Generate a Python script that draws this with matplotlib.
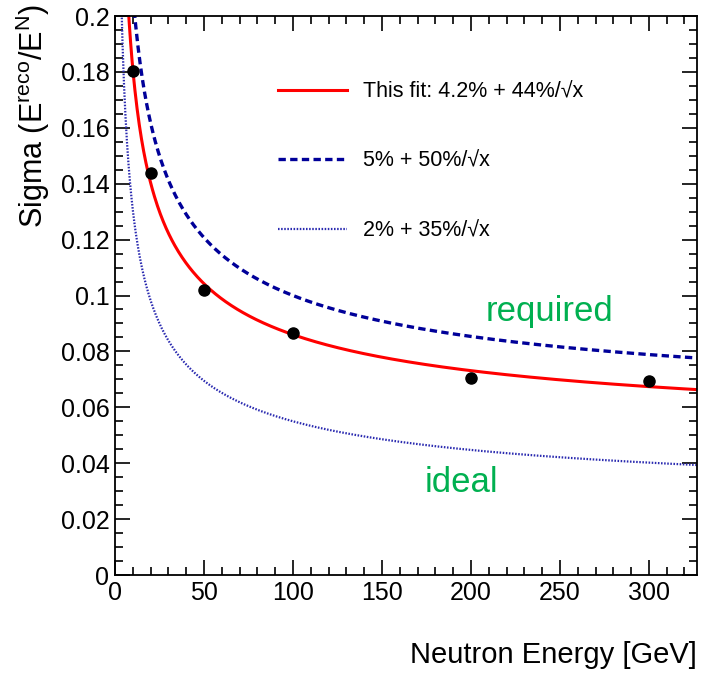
import numpy as np
import matplotlib.pyplot as plt
from matplotlib.ticker import MultipleLocator

plt.rcParams['font.family'] = ['Liberation Sans', 'DejaVu Sans']
plt.rcParams['mathtext.fontset'] = 'custom'
plt.rcParams['mathtext.rm'] = 'Liberation Sans'
plt.rcParams['mathtext.it'] = 'Liberation Sans:italic'

# measured resolution points
energy = [10, 20, 50, 100, 200, 300]
sigma = [0.1805, 0.1440, 0.1021, 0.0866, 0.0705, 0.0694]

# resolution curves: constant term + stochastic term / sqrt(E)
curve_labels = ['This fit: 4.2% + 44%/\u221ax', '5% + 50%/\u221ax', '2% + 35%/\u221ax']
const_terms = [0.042, 0.05, 0.02]
stoch_terms = [0.44, 0.50, 0.35]
curve_colors = ['#ff0000', '#000099', '#2a2ab0']
curve_styles = ['-', (0, (2.2, 1.3)), (0, (0.7, 0.7))]
curve_widths = [2.2, 2.4, 1.6]

x_max = 327


def main():
    W, H = 702, 673
    fig = plt.figure(figsize=(W / 100, H / 100), dpi=100)
    ax = fig.add_axes([0.1638, 0.1456, 0.829, 0.8306])

    xs = np.linspace(1, x_max, 800)
    for c, s, col, ls, lw, lab in zip(const_terms, stoch_terms, curve_colors,
                                      curve_styles, curve_widths, curve_labels):
        ax.plot(xs, c + s / np.sqrt(xs), color=col, linestyle=ls, lw=lw, label=lab)

    ax.plot(energy, sigma, 'o', color='black', ms=8, zorder=5)

    ax.set_xlim(0, x_max)
    ax.set_ylim(0, 0.2)
    ax.xaxis.set_major_locator(MultipleLocator(50))
    ax.xaxis.set_minor_locator(MultipleLocator(10))
    ax.yaxis.set_minor_locator(MultipleLocator(0.005))
    ax.set_yticks([0, 0.02, 0.04, 0.06, 0.08, 0.1, 0.12, 0.14, 0.16, 0.18, 0.2])
    ax.set_yticklabels(['0', '0.02', '0.04', '0.06', '0.08', '0.1', '0.12',
                        '0.14', '0.16', '0.18', '0.2'])
    ax.tick_params(which='both', direction='in', top=True, right=True,
                   labelsize=18, width=1.2, pad=4)
    ax.tick_params(which='major', length=11)
    ax.tick_params(which='minor', length=6)
    for sp in ax.spines.values():
        sp.set_linewidth(1.3)

    # axis titles placed ROOT-style (right / top aligned)
    fig.text(697 / W, 1 - 655 / H, 'Neutron Energy [GeV]', fontsize=21,
             ha='right', va='center')
    fig.text(33 / W, 1 - 4 / H, r'Sigma (E$^{\mathrm{reco}}$/E$^{\mathrm{N}}$)',
             fontsize=22, rotation=90, ha='center', va='top')

    ax.legend(loc='upper left', bbox_to_anchor=(0.246, 0.918), frameon=False,
              fontsize=15.5, handlelength=3.25, handletextpad=0.7,
              labelspacing=2.25)

    ax.text(0.747, 0.472, 'required', transform=ax.transAxes, color='#00b050',
            fontsize=25, ha='center', va='center')
    ax.text(0.595, 0.166, 'ideal', transform=ax.transAxes, color='#00b050',
            fontsize=25, ha='center', va='center')

    plt.savefig('out.png', dpi=100)


if __name__ == '__main__':
    main()
